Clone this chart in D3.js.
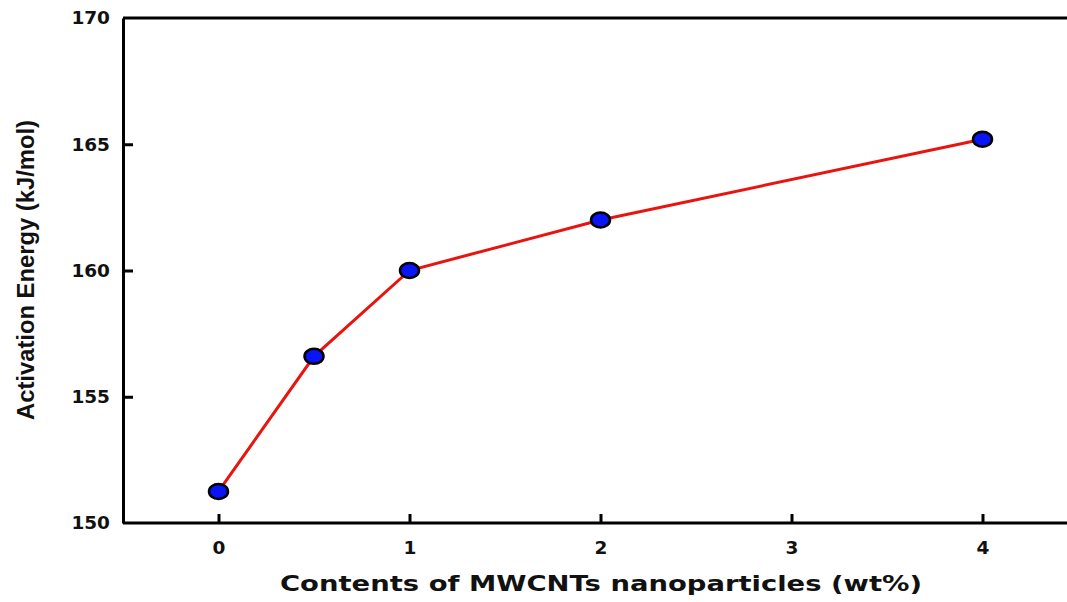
<!DOCTYPE html>
<html>
<head>
<meta charset="utf-8">
<script src="https://cdn.jsdelivr.net/npm/d3@7"></script>
<style>
  body { margin: 0; background: #fff; }
  svg { display: block; }
</style>
</head>
<body>
<svg id="chart"></svg>
<script>
// data
const contents = [0, 0.5, 1, 2, 4];
const energy = [151.25, 156.6, 160.0, 162.0, 165.2];
const xTicks = [0, 1, 2, 3, 4];
const yTicks = [150, 155, 160, 165, 170];

var width = 1067, height = 602;
var margin = {left: 123, top: 18, bottom: 79};

var svg = d3.select('#chart')
    .attr('width', width)
    .attr('height', height);

// x axis runs from -0.5 to 4.5, right part cut off by the frame
var x = d3.scaleLinear().domain([-0.5, 4.5]).range([margin.left, margin.left + 5 * 191]);
var y = d3.scaleLinear().domain([150, 170]).range([height - margin.bottom, margin.top]);

var g = svg.append('g');

// line
var line = d3.line()
    .x(function (d) { return x(d[0]); })
    .y(function (d) { return y(d[1]); });

var pts = contents.map(function (c, i) { return [c, energy[i]]; });

g.append('path')
    .datum(pts)
    .attr('d', line)
    .style('fill', 'none')
    .style('stroke', '#e8140f')
    .style('stroke-width', 3);

// axes frame (left, bottom, top)
var xAxis = d3.axisBottom(x).tickValues(xTicks).tickSizeInner(-9).tickSizeOuter(0).tickPadding(18)
    .tickFormat(d3.format('d'));
var yAxis = d3.axisLeft(y).tickValues(yTicks).tickSizeInner(-10).tickSizeOuter(0).tickPadding(13);

var gx = g.append('g')
    .attr('transform', 'translate(0,' + y(150) + ')')
    .call(xAxis);
var gy = g.append('g')
    .attr('transform', 'translate(' + margin.left + ',0)')
    .call(yAxis);

[gx, gy].forEach(function (ax) {
  ax.select('.domain').style('stroke', '#000').style('stroke-width', 3);
  ax.selectAll('.tick line').style('stroke', '#000').style('stroke-width', 3);
  ax.selectAll('.tick text')
    .style('font-family', '"DejaVu Sans", Verdana, sans-serif')
    .style('font-weight', 'bold')
    .style('font-size', '18.5px')
    .style('fill', '#111');
});
// hide end ticks which sit on the corners
gy.selectAll('.tick').filter(function (d) { return d === 150 || d === 170; }).select('line').remove();
gx.select('.domain').attr('d', 'M' + margin.left + ',0H' + x(4.5));

g.append('line')
    .attr('x1', margin.left).attr('x2', x(4.5))
    .attr('y1', y(170)).attr('y2', y(170))
    .style('stroke', '#000').style('stroke-width', 3);

// markers
g.selectAll('ellipse')
    .data(pts)
    .enter().append('ellipse')
    .attr('cx', function (d) { return x(d[0]); })
    .attr('cy', function (d) { return y(d[1]); })
    .attr('rx', 9.5)
    .attr('ry', 7.5)
    .style('fill', '#0a14f5')
    .style('stroke', '#000')
    .style('stroke-width', 2.5);

// axis titles
svg.append('text')
    .attr('x', 601)
    .attr('y', 591)
    .attr('text-anchor', 'middle')
    .attr('textLength', 642)
    .attr('lengthAdjust', 'spacingAndGlyphs')
    .style('font-family', '"DejaVu Sans", Verdana, sans-serif')
    .style('font-weight', 'bold')
    .style('font-size', '22px')
    .style('fill', '#111')
    .text('Contents of MWCNTs nanoparticles (wt%)');

svg.append('text')
    .attr('transform', 'translate(34,270) rotate(-90)')
    .attr('text-anchor', 'middle')
    .attr('textLength', 300)
    .attr('lengthAdjust', 'spacingAndGlyphs')
    .style('font-family', '"Liberation Sans Narrow", "Liberation Sans", Arial, sans-serif')
    .style('font-weight', 'bold')
    .style('font-size', '23px')
    .style('fill', '#111')
    .text('Activation Energy (kJ/mol)');
</script>
</body>
</html>
